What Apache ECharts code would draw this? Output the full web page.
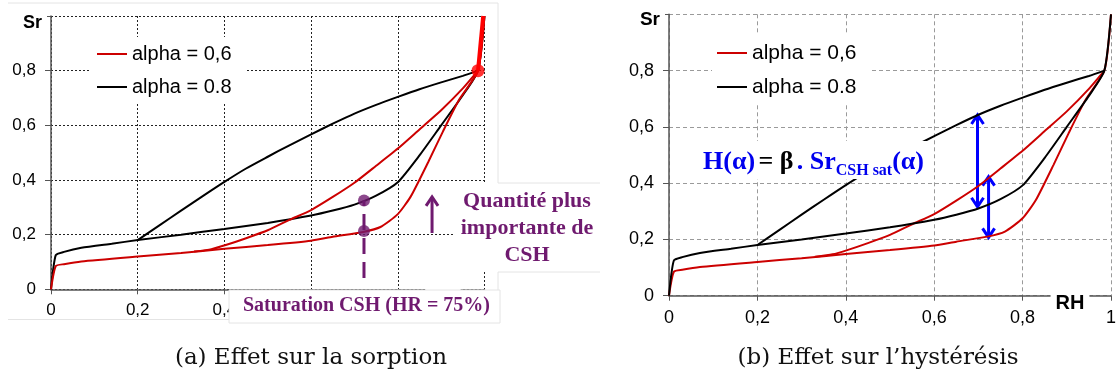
<!DOCTYPE html>
<html>
<head>
<meta charset="utf-8">
<script src="https://cdn.jsdelivr.net/npm/echarts@6/dist/echarts.min.js"></script>
<style>
  html, body { margin: 0; padding: 0; background: #fff; }
  #main { width: 1119px; height: 382px; }
</style>
</head>
<body>
<div id="main"></div>
<script>
// --- data (RH, Sr) ---
var legendNames = ['alpha = 0,6', 'alpha = 0.8'];

// alpha = 0.8 (black): adsorption (lower) and desorption (upper) branch
var black08Ads = [[0, 0], [0.011, 0.125], [0.03, 0.137], [0.07, 0.152], [0.14, 0.167], [0.2, 0.18], [0.3, 0.2], [0.4, 0.221], [0.5, 0.243], [0.6, 0.27], [0.65, 0.288], [0.7, 0.31], [0.75, 0.343], [0.8, 0.392], [0.85, 0.49], [0.9, 0.6], [0.95, 0.71], [0.985, 0.8], [1, 1]];
var black08Des = [[0.2, 0.18], [0.25, 0.234], [0.3, 0.288], [0.35, 0.341], [0.4, 0.393], [0.45, 0.442], [0.5, 0.485], [0.55, 0.527], [0.6, 0.567], [0.65, 0.606], [0.7, 0.643], [0.75, 0.675], [0.8, 0.704], [0.85, 0.732], [0.9, 0.757], [0.95, 0.781], [0.985, 0.8]];

// alpha = 0.6 (red)
var red06Ads = [[0, 0], [0.011, 0.085], [0.03, 0.092], [0.07, 0.102], [0.2, 0.12], [0.3, 0.133], [0.4, 0.148], [0.5, 0.162], [0.6, 0.178], [0.65, 0.192], [0.72, 0.21], [0.76, 0.228], [0.8, 0.275], [0.83, 0.34], [0.87, 0.465], [0.904, 0.577], [0.942, 0.695], [0.985, 0.8], [1, 1]];
var red06Des = [[0.33, 0.138], [0.37, 0.147], [0.405, 0.163], [0.45, 0.187], [0.5, 0.216], [0.55, 0.254], [0.6, 0.29], [0.65, 0.338], [0.7, 0.39], [0.75, 0.452], [0.8, 0.515], [0.85, 0.585], [0.9, 0.655], [0.95, 0.735], [0.985, 0.8]];

// annotations (a)
var junctionPoint = [[0.985, 0.8]];
var junctionTail = [[0.985, 0.8], [0.997, 1]];
var satDots = [[0.722, 0.325], [0.722, 0.213]];
var satDash = [[0.722, 0.041], [0.722, 0.325]];
var purpleArrow = [[0.879, 0.206, 0.338, 1]];   // x, from, to, heads
// annotations (b)
var blueArrows = [[0.698, 0.316, 0.642, 2], [0.723, 0.207, 0.423, 2]];

var RED = '#cc0000';
var PURPLE = '#6f1a6f';

function fmtTick(v) {
  if (v === 0) return '0';
  if (v === 1) return '1';
  return String(+v.toFixed(1)).replace('.', ',');
}
function fmtY(v) {
  return v === 1 ? '' : fmtTick(v);
}

function xAxisFor(grid, font, grd) {
  return {
    type: 'value', gridIndex: grid, min: 0, max: 1, interval: 0.2,
    axisLine: {show: true, lineStyle: {color: '#555', width: 1.5}},
    axisTick: {show: true, length: 5, lineStyle: {color: '#555'}},
    axisLabel: {formatter: fmtTick, fontFamily: 'Liberation Sans', fontSize: font, color: '#000', margin: 13},
    splitLine: {show: true, lineStyle: grd}
  };
}
function yAxisFor(grid, font, grd) {
  return {
    type: 'value', gridIndex: grid, min: 0, max: 1, interval: 0.2,
    axisLine: {show: true, lineStyle: {color: '#555', width: 1.5}},
    axisTick: {show: true, length: 6, lineStyle: {color: '#555'}},
    axisLabel: {formatter: fmtY, fontFamily: 'Liberation Sans', fontSize: font, color: '#000', margin: 15},
    splitLine: {show: true, lineStyle: grd}
  };
}

function curve(name, data, color, idx) {
  return {
    name: name, type: 'line', xAxisIndex: idx, yAxisIndex: idx,
    data: data, smooth: 0.2, symbol: 'none',
    lineStyle: {color: color, width: 2}, itemStyle: {color: color}
  };
}

function renderArrow(params, api) {
  var x = api.value(0);
  var lo = api.coord([x, api.value(1)]);
  var hi = api.coord([x, api.value(2)]);
  var style = {stroke: api.visual('color'), lineWidth: 3, fill: null};
  var w = 6, h = 9;
  var kids = [
    {type: 'line', shape: {x1: lo[0], y1: lo[1], x2: hi[0], y2: hi[1]}, style: style},
    {type: 'polyline', shape: {points: [[hi[0] - w, hi[1] + h], [hi[0], hi[1]], [hi[0] + w, hi[1] + h]]}, style: style}
  ];
  if (api.value(3) === 2) {
    kids.push({type: 'polyline', shape: {points: [[lo[0] - w, lo[1] - h], [lo[0], lo[1]], [lo[0] + w, lo[1] - h]]}, style: style});
  }
  return {type: 'group', children: kids};
}

function legendFor(left, top, pad, gap, font) {
  return {
    orient: 'vertical', left: left, top: top, padding: pad, itemGap: gap,
    backgroundColor: '#fff', icon: 'rect', itemWidth: 30, itemHeight: 2,
    textStyle: {fontFamily: 'Liberation Sans', fontSize: font, color: '#000', lineHeight: 22},
    data: legendNames, selectedMode: false
  };
}

var dotted = {color: '#222', type: [2, 2], width: 1};
var dashed = {color: '#9a9a9a', type: [4, 3], width: 1};

var chart = echarts.init(document.getElementById('main'));

var option = {
  animation: false,
  backgroundColor: '#fff',
  grid: [
    {left: 51, top: 16, width: 433.5, height: 273.3},
    {left: 669, top: 14.3, width: 447, height: 281.4}
  ],
  xAxis: [xAxisFor(0, 17, dotted), xAxisFor(1, 18, dashed)],
  yAxis: [yAxisFor(0, 17, dotted), yAxisFor(1, 18, dashed)],
  legend: [
    legendFor(90, 37, [6, 14, 6, 7], 11, 20),
    legendFor(712, 35, [7, 14, 7, 5], 12, 21)
  ],
  series: [
    // (a) Effet sur la sorption
    curve(legendNames[1], black08Ads, '#000', 0),
    curve(legendNames[1], black08Des, '#000', 0),
    curve(legendNames[0], red06Ads, RED, 0),
    curve(legendNames[0], red06Des, RED, 0),
    {type: 'line', xAxisIndex: 0, yAxisIndex: 0, data: junctionTail, symbol: 'none',
      lineStyle: {color: '#ff0000', width: 4}},
    {type: 'scatter', xAxisIndex: 0, yAxisIndex: 0, data: junctionPoint, symbolSize: 13,
      itemStyle: {color: '#ff0000'}, z: 5},
    {type: 'line', xAxisIndex: 0, yAxisIndex: 0, data: satDash, symbol: 'none',
      lineStyle: {color: PURPLE, width: 3, type: [16, 8]}},
    {type: 'scatter', xAxisIndex: 0, yAxisIndex: 0, data: satDots, symbolSize: 12,
      itemStyle: {color: PURPLE}, z: 5},
    {type: 'custom', xAxisIndex: 0, yAxisIndex: 0, data: purpleArrow, renderItem: renderArrow,
      encode: {x: 0, y: [1, 2]}, itemStyle: {color: PURPLE}},
    // (b) Effet sur l'hysteresis
    curve(legendNames[0], red06Ads, RED, 1),
    curve(legendNames[0], red06Des, RED, 1),
    curve(legendNames[1], black08Ads, '#000', 1),
    curve(legendNames[1], black08Des, '#000', 1),
    {type: 'custom', xAxisIndex: 1, yAxisIndex: 1, data: blueArrows, renderItem: renderArrow,
      encode: {x: 0, y: [1, 2]}, itemStyle: {color: '#0000ff'}}
  ],
  graphic: [
    // frame of the left picture
    {type: 'polyline', shape: {points: [[8, 3], [498, 3], [498, 183]]}, style: {stroke: '#e4e4e4', fill: null, lineWidth: 1}, z: 1},
    {type: 'line', shape: {x1: 8, y1: 319.5, x2: 230, y2: 319.5}, style: {stroke: '#e4e4e4', lineWidth: 1}, z: 1},
    // axis names
    {type: 'text', x: 47, y: 23, z: 20, style: {text: 'Sr', font: 'bold 18px "Liberation Sans"', fill: '#000',
      align: 'right', verticalAlign: 'middle', backgroundColor: '#fff', padding: [6, 5, 4, 3]}},
    {type: 'text', x: 665, y: 20, z: 20, style: {text: 'Sr', font: 'bold 19px "Liberation Sans"', fill: '#000',
      align: 'right', verticalAlign: 'middle', backgroundColor: '#fff', padding: [6, 5, 4, 3]}},
    {type: 'text', x: 443, y: 298, z: 20, style: {text: 'RH', font: 'bold 19px "Liberation Sans"', fill: '#000',
      align: 'center', verticalAlign: 'middle', backgroundColor: '#fff', padding: [0, 4]}},
    {type: 'text', x: 1070, y: 303, z: 20, style: {text: 'RH', font: 'bold 20px "Liberation Sans"', fill: '#000',
      align: 'center', verticalAlign: 'middle', backgroundColor: '#fff', padding: [0, 5]}},
    // "Quantite plus importante de CSH" box
    {type: 'rect', shape: {x: 455, y: 183, width: 145, height: 89}, style: {fill: '#fff'}, z: 30},
    {type: 'line', shape: {x1: 498, y1: 183, x2: 600, y2: 183}, style: {stroke: '#e4e4e4', lineWidth: 1}, z: 31},
    {type: 'line', shape: {x1: 498, y1: 272, x2: 600, y2: 272}, style: {stroke: '#e4e4e4', lineWidth: 1}, z: 31},
    {type: 'line', shape: {x1: 498, y1: 272, x2: 498, y2: 290}, style: {stroke: '#e4e4e4', lineWidth: 1}, z: 31},
    {type: 'text', x: 527, y: 228, z: 32, style: {text: 'Quantité plus\nimportante de\nCSH',
      font: 'bold 22px "Liberation Serif"', fill: PURPLE, align: 'center', verticalAlign: 'middle', lineHeight: 27}},
    // "Saturation CSH" box
    {type: 'rect', shape: {x: 229, y: 290, width: 271, height: 33}, style: {fill: '#fff', stroke: '#e4e4e4', lineWidth: 1}, z: 30},
    {type: 'text', x: 243, y: 306, z: 32, style: {text: 'Saturation CSH (HR = 75%)',
      font: 'bold 20px "Liberation Serif"', fill: PURPLE, align: 'left', verticalAlign: 'middle'}},
    // hysteresis formula
    {type: 'rect', shape: {x: 698, y: 141, width: 232, height: 38}, style: {fill: '#fff'}, z: 30},
    {type: 'text', x: 703, y: 162, z: 32, style: {
      text: '{b|H(α)} {k|= β} {b|. Sr}{s|CSH sat}{b|(α)}',
      verticalAlign: 'middle', align: 'left',
      rich: {
        b: {fontFamily: 'Liberation Serif', fontWeight: 'bold', fontSize: 26, fill: '#0000ee'},
        k: {fontFamily: 'Liberation Serif', fontWeight: 'bold', fontSize: 26, fill: '#000'},
        s: {fontFamily: 'Liberation Serif', fontWeight: 'bold', fontSize: 16, fill: '#0000ee', padding: [18, 0, 0, 0]}
      }
    }},
    // captions
    {type: 'text', x: 311, y: 358, z: 20, style: {text: '(a) Effet sur la sorption',
      font: '23px "DejaVu Serif"', fill: '#111', align: 'center', verticalAlign: 'middle'}},
    {type: 'text', x: 878, y: 358, z: 20, style: {text: '(b) Effet sur l’hystérésis',
      font: '23px "DejaVu Serif"', fill: '#111', align: 'center', verticalAlign: 'middle'}}
  ]
};

chart.setOption(option);
</script>
</body>
</html>
